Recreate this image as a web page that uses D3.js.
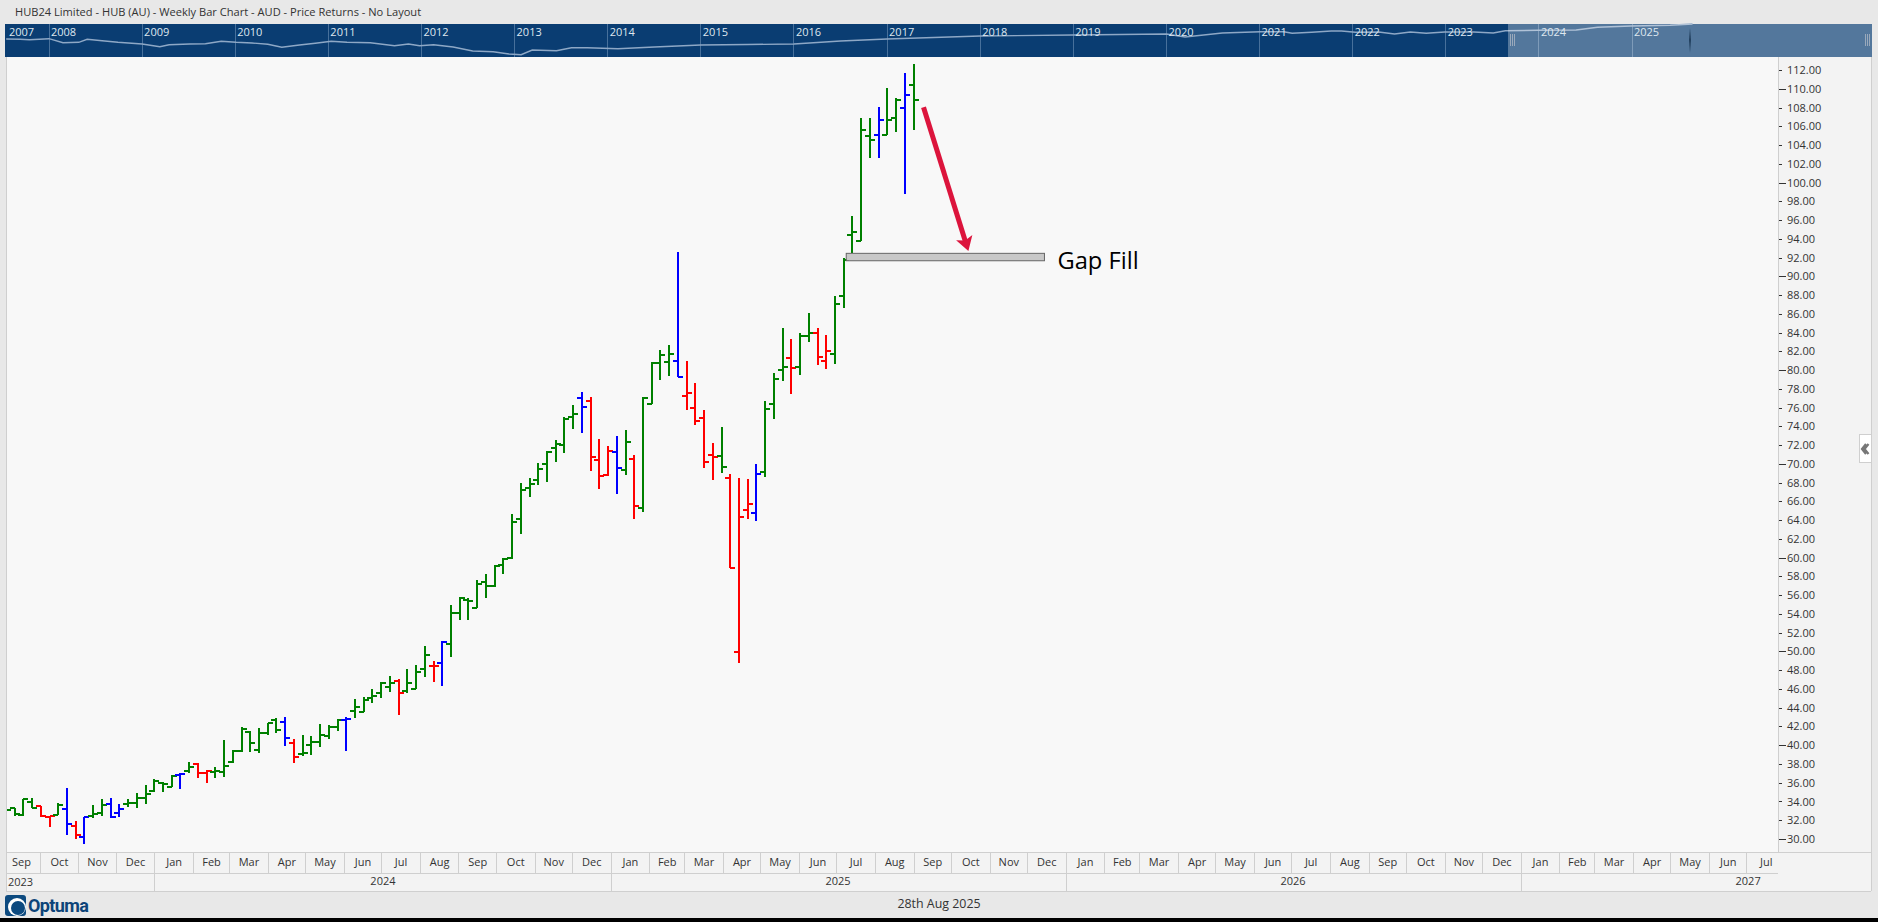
<!DOCTYPE html>
<html>
<head>
<meta charset="utf-8">
<title>HUB24 Weekly Bar Chart</title>
<script src="https://cdn.jsdelivr.net/npm/d3@7/dist/d3.min.js"></script>
<style>
  html, body { margin: 0; padding: 0; background: #e8e8e8; overflow: hidden; }
  svg { display: block; }
  text { font-family: "Open Sans", sans-serif; font-size: 11px; fill: #333; }
  .navText { fill: #dfe7ef; }
  .axis path.domain { display: none; }
</style>
</head>
<body>
<div id="chart"></div>
<script>
// Weekly bars
var barDates = [
  "2023-09-04","2023-09-11","2023-09-18","2023-09-25","2023-10-02","2023-10-09","2023-10-16","2023-10-23","2023-10-30",
  "2023-11-06","2023-11-13","2023-11-20","2023-11-27","2023-12-04","2023-12-11","2023-12-18","2023-12-25",
  "2024-01-01","2024-01-08","2024-01-15","2024-01-22","2024-01-29","2024-02-05","2024-02-12","2024-02-19","2024-02-26",
  "2024-03-04","2024-03-11","2024-03-18","2024-03-25","2024-04-01","2024-04-08","2024-04-15","2024-04-22","2024-04-29",
  "2024-05-06","2024-05-13","2024-05-20","2024-05-27","2024-06-03","2024-06-10","2024-06-17","2024-06-24",
  "2024-07-01","2024-07-08","2024-07-15","2024-07-22","2024-07-29","2024-08-05","2024-08-12","2024-08-19","2024-08-26",
  "2024-09-02","2024-09-09","2024-09-16","2024-09-23","2024-09-30","2024-10-07","2024-10-14","2024-10-21","2024-10-28",
  "2024-11-04","2024-11-11","2024-11-18","2024-11-25","2024-12-02","2024-12-09","2024-12-16","2024-12-23","2024-12-30",
  "2025-01-06","2025-01-13","2025-01-20","2025-01-27","2025-02-03","2025-02-10","2025-02-17","2025-02-24",
  "2025-03-03","2025-03-10","2025-03-17","2025-03-24","2025-03-31","2025-04-07","2025-04-14","2025-04-21","2025-04-28",
  "2025-05-05","2025-05-12","2025-05-19","2025-05-26","2025-06-02","2025-06-09","2025-06-16","2025-06-23","2025-06-30",
  "2025-07-07","2025-07-14","2025-07-21","2025-07-28","2025-08-04","2025-08-11","2025-08-18","2025-08-25","2025-09-01"
];

var opens = [
  31.85,33.27,32.56,33.95,33.56,32.38,32.56,33.16,31.42,30.18,32.45,32.81,33.73,32.81,33.73,33.87,34.34,
  35.15,35.94,35.58,36.83,37.25,38.00,37.07,37.15,37.18,38.25,39.39,41.45,39.49,41.27,42.69,42.51,40.20,39.06,40.06,
  40.38,40.98,41.91,42.69,43.68,43.58,45.07,45.60,46.24,46.88,45.82,45.99,48.16,48.45,48.80,50.79,54.10,55.52,54.67,
  57.44,56.98,59.25,59.97,64.12,67.43,68.28,70.02,71.69,72.01,75.04,77.06,76.74,70.45,68.81,71.30,69.38,70.56,65.33,
  76.42,80.79,80.90,81.01,77.27,75.99,74.93,70.98,70.88,68.53,49.97,65.12,64.80,69.17,76.42,80.05,81.33,80.37,83.67,
  83.99,81.00,81.75,87.90,94.44,93.80,104.96,105.10,105.10,106.91,107.98,110.43
];
var highs = [
  33.09,33.27,34.23,34.34,33.56,32.45,33.87,35.40,31.92,32.31,33.59,34.23,34.34,33.70,34.23,34.87,35.76,
  36.36,36.11,36.83,37.00,38.18,38.07,37.36,37.64,40.56,39.49,41.91,41.52,41.80,42.40,42.87,42.97,40.63,41.09,41.02,
  42.26,42.12,42.76,42.97,44.89,45.10,45.96,46.71,47.38,47.03,48.09,48.52,50.58,48.95,51.08,54.95,55.77,55.66,57.62,
  58.26,59.18,59.93,64.66,67.96,68.49,70.09,71.37,72.55,74.96,76.28,77.63,77.10,72.65,71.91,72.97,73.61,70.95,77.10,
  80.83,82.14,82.68,92.59,80.97,78.63,75.75,72.23,73.93,68.92,68.49,68.38,69.98,76.70,79.69,84.49,83.32,83.96,86.09,
  84.49,83.74,87.90,91.92,96.43,106.84,106.84,108.05,110.04,108.98,111.68,112.64
];
var lows = [
  31.31,32.45,32.45,33.27,32.31,31.31,32.56,30.43,29.97,29.50,32.20,32.45,32.20,32.31,33.38,33.34,33.73,
  35.05,35.05,35.51,35.37,37.07,36.54,36.01,36.54,36.65,38.07,39.28,39.28,39.21,41.09,41.34,39.95,38.07,38.85,38.96,
  39.85,40.70,41.55,39.42,42.94,43.51,44.47,45.07,45.71,43.22,45.60,45.96,47.31,46.78,46.35,49.44,53.35,53.35,54.60,
  55.74,56.84,58.26,59.89,62.52,66.47,67.75,68.10,70.24,71.20,73.72,73.33,69.28,67.32,68.74,66.82,68.85,64.12,64.91,
  76.38,78.94,79.37,79.27,75.75,74.15,69.56,68.28,69.06,58.86,48.77,64.12,63.91,68.60,74.78,78.87,77.45,79.48,83.00,
  80.54,80.12,80.65,86.62,92.45,93.76,102.65,102.65,105.07,105.42,98.81,105.63
];
var closes = [
  33.09,32.63,34.23,33.34,32.45,32.45,33.66,31.63,30.43,32.31,32.67,33.63,32.38,33.16,33.80,34.34,34.80,
  36.18,35.83,36.72,36.93,37.71,37.07,37.22,37.29,37.82,39.42,41.69,40.20,41.27,42.33,41.62,40.81,38.71,39.21,40.38,
  41.09,41.91,42.69,42.83,44.11,44.82,45.25,46.63,46.67,45.60,46.60,47.84,49.65,48.48,51.04,54.10,55.74,55.42,57.19,
  56.98,59.15,59.89,63.80,67.21,67.85,69.49,71.30,72.16,74.82,75.36,76.10,70.77,68.74,71.41,69.60,72.37,65.54,77.06,
  80.72,81.65,81.75,79.30,77.59,74.57,70.24,70.77,69.70,58.90,64.37,65.75,68.95,75.88,79.09,80.37,80.26,83.67,83.99,
  81.43,82.07,87.08,91.74,94.76,105.63,104.57,106.70,106.70,108.83,109.37,108.83
];
// g = up, r = down, b = outside/other, as coloured on the chart
var barKinds = (
  "g g g g r r g b r b g g b b g g g " +
  "g g g b g r r g g g g g g g g b r g g " +
  "g g g b g g g g g r g g g r b g g g g " +
  "g g g g g g g g g g g b r r r b g r g " +
  "g g g b r r r r g r r r b g g g r g g " +
  "r r g g g g g b g g b g"
).split(" ");

var priceTicks = [30,32,34,36,38,40,42,44,46,48,50,52,54,56,58,60,62,64,66,68,70,72,74,76,78,80,
  82,84,86,88,90,92,94,96,98,100,102,104,106,108,110,112];
var monthNames = ["Jan","Feb","Mar","Apr","May","Jun","Jul","Aug","Sep","Oct","Nov","Dec"];
var yearLabels = [2024, 2025, 2026, 2027];
var navYearLabels = [2008,2009,2010,2011,2012,2013,2014,2015,2016,2017,2018,2019,2020,2021,2022,2023,2024,2025];

// Navigator strip: year position and height of the small history line
var navYears = [2007.54,2007.69,2007.79,2008.0,2008.15,2008.32,2008.41,2008.57,2008.74,2009.0,2009.19,2009.29,2009.51,
  2009.68,2009.85,2010.01,2010.18,2010.35,2010.5,2010.69,2010.86,2011.03,2011.2,2011.45,2011.71,2011.86,2011.98,
  2012.13,2012.34,2012.55,2012.77,2012.94,2013.07,2013.19,2013.45,2013.61,2013.78,2014.11,2014.5,2015,2015.5,2016,
  2016.5,2017,2017.5,2018,2019,2020,2020.2,2020.6,2021.01,2021.26,2021.35,2021.56,2021.77,2021.88,2022.03,2022.28,
  2022.45,2022.62,2022.79,2022.99,2023.3,2023.51,2023.64,2023.99,2024.4,2024.63,2024.99,2025.41,2025.65];
var navLevels = [18,17.7,17.3,18.3,14.3,14.7,17.7,16.3,14.7,13,10.3,12.3,13,13.3,15.7,14.7,14,12.7,9.7,12,13.7,15.7,14.7,
  14.3,11.3,13,11.3,12.3,10,6,5.3,3,2.3,7,6.3,9.3,9.3,8.3,10,12,12.5,13,16,18,19.5,21,22,23,20,24,25.3,25.3,23.7,24.7,
  26,26,24.7,25,23,25,23.7,25,25,24,26.3,26.7,27,29.7,31,31.7,33];

// Annotations
var gapFill = { start: "2025-07-09", end: "2025-12-15", top: 92.45, bottom: 91.66, label: "Gap Fill" };
var arrow = { fromDate: "2025-09-09", fromPrice: 108.02, toDate: "2025-10-15", toPrice: 92.70 };

var titleText = "HUB24 Limited - HUB (AU) - Weekly Bar Chart - AUD - Price Returns - No Layout";
var dateText = "28th Aug 2025";

var svgWidth = 1878;
var svgHeight = 922;

var plot = { left: 6, right: 1778, top: 57, bottom: 852 };
var nav = { left: 5, right: 1872, top: 24, bottom: 57, windowLeft: 1508 };
var monthRowBottom = 873;
var yearRowBottom = 891;

var parseDate = d3.utcParse("%Y-%m-%d");

var bars = barDates.map(function(d, i) {
  return { date: parseDate(d), open: opens[i], high: highs[i], low: lows[i], close: closes[i], kind: barKinds[i] };
});

// Scales
var x = d3.scaleUtc()
  .domain([parseDate("2024-01-01"), parseDate("2027-01-01")])
  .range([154.3, 1520.7]);

var y = d3.scaleLinear()
  .domain([30, 112])
  .range([839, 70]);

var barColor = d3.scaleOrdinal()
  .domain(["g", "r", "b"])
  .range(["#008000", "#ff0000", "#0000ff"]);

var navX = d3.scaleLinear().domain([2008, 2025]).range([49, 1632]);
var navY = d3.scaleLinear().domain([0, 33]).range([nav.bottom, nav.top]);

var svg = d3.select("#chart")
  .append("svg")
  .attr("width", svgWidth)
  .attr("height", svgHeight);

// Window background and the black strip under it
svg.append("rect").attr("width", svgWidth).attr("height", svgHeight).attr("fill", "#e8e8e8");
svg.append("rect").attr("y", 918).attr("width", svgWidth).attr("height", 4).attr("fill", "#000");

svg.append("text").attr("x", 15).attr("y", 16).style("font-size", "11.1px").text(titleText);

// Plot and side panels
svg.append("rect")
  .attr("x", plot.left).attr("y", plot.top)
  .attr("width", 1865).attr("height", yearRowBottom - plot.top)
  .attr("fill", "#f3f3f3");
svg.append("rect")
  .attr("x", plot.left).attr("y", plot.top)
  .attr("width", plot.right - plot.left).attr("height", plot.bottom - plot.top)
  .attr("fill", "#f8f8f8");

// Navigator
var navGroup = svg.append("g");

navGroup.append("rect")
  .attr("x", nav.left).attr("y", nav.top)
  .attr("width", nav.right - nav.left).attr("height", nav.bottom - nav.top)
  .attr("fill", "#0a3d72");

navGroup.selectAll(".navGrid")
  .data(navYearLabels)
  .enter()
  .append("line")
  .attr("x1", d => navX(d)).attr("x2", d => navX(d))
  .attr("y1", nav.top).attr("y2", nav.bottom)
  .attr("stroke", "#47709b")
  .attr("shape-rendering", "crispEdges");

var navLine = d3.line()
  .x(function(d, i) { return navX(navYears[i]); })
  .y(function(d) { return navY(d); });

navGroup.append("path")
  .attr("d", navLine(navLevels))
  .attr("fill", "none")
  .attr("stroke", "#8ea8c6")
  .attr("stroke-width", 1.4);

navGroup.append("rect")
  .attr("x", nav.windowLeft).attr("y", nav.top)
  .attr("width", nav.right - nav.windowLeft).attr("height", nav.bottom - nav.top)
  .attr("fill", "#fff").attr("opacity", 0.3);

navGroup.selectAll(".navText")
  .data([2007].concat(navYearLabels))
  .enter()
  .append("text")
  .attr("class", "navText")
  .attr("x", d => d == 2007 ? 9 : navX(d) + 2)
  .attr("y", 36)
  .text(d => d);

// Grips of the selected window
[1510, 1512, 1514, 1865, 1867, 1869].forEach(function(gx) {
  navGroup.append("line")
    .attr("x1", gx).attr("x2", gx).attr("y1", 34).attr("y2", 46)
    .attr("stroke", "#9aa9bb").attr("shape-rendering", "crispEdges");
});
navGroup.append("path")
  .attr("d", "M1690,28 L1691,40 L1690,53 L1689,40 Z")
  .attr("fill", "#22405f");

// Price axis
var rightAxis = d3.axisRight(y)
  .tickValues(priceTicks)
  .tickFormat(d3.format(".2f"))
  .tickSize(4)
  .tickPadding(5);

var priceAxis = svg.append("g")
  .attr("class", "axis")
  .attr("transform", `translate(${plot.right}, 0)`)
  .call(rightAxis);

priceAxis.selectAll("text")
  .attr("fill", null)
  .style("font-size", "11px");
priceAxis.selectAll("line")
  .attr("stroke", "#333")
  .attr("x2", d => d % 10 == 0 ? 8 : 4)
  .attr("shape-rendering", "crispEdges");

// Time axis rows
var months = d3.utcMonth.range(parseDate("2023-09-01"), parseDate("2027-08-01"));
var monthMiddles = months.map(function(m) {
  return new Date((+m + +d3.utcMonth.offset(m, 1)) / 2);
});

var monthLines = d3.axisBottom(x)
  .tickValues(months.slice(1))
  .tickSize(monthRowBottom - plot.bottom)
  .tickFormat("");

svg.append("g")
  .attr("class", "axis")
  .attr("transform", `translate(0, ${plot.bottom})`)
  .call(monthLines)
  .selectAll("line")
  .attr("stroke", "#cfcfcf")
  .attr("shape-rendering", "crispEdges");

var monthAxis = d3.axisBottom(x)
  .tickValues(monthMiddles)
  .tickSize(0)
  .tickPadding(6)
  .tickFormat(d => monthNames[d.getUTCMonth()]);

svg.append("g")
  .attr("class", "axis")
  .attr("transform", `translate(0, ${plot.bottom})`)
  .call(monthAxis)
  .selectAll("text")
  .attr("fill", null)
  .style("font-size", "11px");

var yearStarts = yearLabels.map(d => parseDate(d + "-01-01"));
var yearLines = d3.axisBottom(x)
  .tickValues(yearStarts)
  .tickSize(yearRowBottom - plot.bottom)
  .tickFormat("");

svg.append("g")
  .attr("class", "axis")
  .attr("transform", `translate(0, ${plot.bottom})`)
  .call(yearLines)
  .selectAll("line")
  .attr("stroke", "#cfcfcf")
  .attr("shape-rendering", "crispEdges");

var yearMiddles = yearLabels.map(d => parseDate(d + "-07-02"));
var yearAxis = d3.axisBottom(x)
  .tickValues(yearMiddles)
  .tickSize(0)
  .tickPadding(4)
  .tickFormat(d => d.getUTCFullYear());

svg.append("g")
  .attr("class", "axis")
  .attr("transform", `translate(0, ${monthRowBottom})`)
  .call(yearAxis)
  .selectAll("text")
  .attr("fill", null)
  .style("font-size", "11px");

svg.append("text").attr("x", 8).attr("y", 886).text(2023);

// Panel border lines
var borderLines = [
  [plot.left, plot.top, plot.left, yearRowBottom],
  [plot.right, plot.top, plot.right, plot.bottom],
  [1871, plot.top, 1871, yearRowBottom],
  [plot.left, plot.bottom, 1871, plot.bottom],
  [plot.left, monthRowBottom, plot.right, monthRowBottom],
  [plot.left, yearRowBottom, 1871, yearRowBottom]
];
svg.selectAll(".border")
  .data(borderLines)
  .enter()
  .append("line")
  .attr("x1", d => d[0]).attr("y1", d => d[1])
  .attr("x2", d => d[2]).attr("y2", d => d[3])
  .attr("stroke", "#cfcfcf")
  .attr("shape-rendering", "crispEdges");

// Bars
svg.append("clipPath").attr("id", "plotClip")
  .append("rect")
  .attr("x", plot.left + 1).attr("y", plot.top)
  .attr("width", plot.right - plot.left - 1).attr("height", plot.bottom - plot.top);

var barGroup = svg.append("g")
  .attr("clip-path", "url(#plotClip)")
  .attr("shape-rendering", "crispEdges")
  .attr("stroke-width", 2);

var barMarks = barGroup.selectAll("g")
  .data(bars)
  .enter()
  .append("g")
  .attr("stroke", d => barColor(d.kind));

barMarks.append("line")
  .attr("x1", d => Math.round(x(d.date))).attr("x2", d => Math.round(x(d.date)))
  .attr("y1", d => y(d.high)).attr("y2", d => y(d.low));

barMarks.append("line")
  .attr("x1", d => Math.round(x(d.date)) - 5).attr("x2", d => Math.round(x(d.date)))
  .attr("y1", d => Math.round(y(d.open))).attr("y2", d => Math.round(y(d.open)));

barMarks.append("line")
  .attr("x1", d => Math.round(x(d.date))).attr("x2", d => Math.round(x(d.date)) + 5)
  .attr("y1", d => Math.round(y(d.close))).attr("y2", d => Math.round(y(d.close)));

// Gap fill box
svg.append("rect")
  .attr("x", x(parseDate(gapFill.start)))
  .attr("y", y(gapFill.top))
  .attr("width", x(parseDate(gapFill.end)) - x(parseDate(gapFill.start)))
  .attr("height", y(gapFill.bottom) - y(gapFill.top))
  .attr("fill", "#c8c8c8")
  .attr("stroke", "#666")
  .attr("stroke-width", 1);

svg.append("text")
  .attr("x", x(parseDate(gapFill.end)) + 13)
  .attr("y", y(gapFill.bottom) + 8)
  .style("font-size", "23.7px")
  .style("fill", "#000")
  .text(gapFill.label);

// Arrow down to the gap
var ax1 = x(parseDate(arrow.fromDate)), ay1 = y(arrow.fromPrice);
var ax2 = x(parseDate(arrow.toDate)), ay2 = y(arrow.toPrice);
var alen = Math.hypot(ax2 - ax1, ay2 - ay1);
var ux = (ax2 - ax1) / alen, uy = (ay2 - ay1) / alen;

svg.append("line")
  .attr("x1", ax1).attr("y1", ay1)
  .attr("x2", ax2 - ux * 10).attr("y2", ay2 - uy * 10)
  .attr("stroke", "#dc143c")
  .attr("stroke-width", 5);

svg.append("path")
  .attr("d", `M${ax2},${ay2}
    L${ax2 - ux * 14 - uy * 8.5},${ay2 - uy * 14 + ux * 8.5}
    L${ax2 - ux * 11},${ay2 - uy * 11}
    L${ax2 - ux * 14 + uy * 8.5},${ay2 - uy * 14 - ux * 8.5} Z`)
  .attr("fill", "#dc143c");

// Side panel handle
svg.append("path")
  .attr("d", "M1871,434 H1859 V462 H1871")
  .attr("fill", "#fff")
  .attr("stroke", "#cfcfcf")
  .attr("shape-rendering", "crispEdges");
svg.append("path")
  .attr("d", "M1866,444 L1862,449 L1866,454 M1868.5,444 L1864.5,449 L1868.5,454")
  .attr("fill", "none")
  .attr("stroke", "#777")
  .attr("stroke-width", 2.2);

// Footer
svg.append("text")
  .attr("x", 939).attr("y", 908)
  .attr("text-anchor", "middle")
  .style("font-size", "12.4px")
  .text(dateText);

var logo = svg.append("g");
logo.append("rect").attr("x", 5).attr("y", 895).attr("width", 21).attr("height", 21).attr("rx", 3).attr("fill", "#0d4a7f");
logo.append("circle").attr("cx", 17).attr("cy", 907).attr("r", 9).attr("fill", "#fff");
logo.append("circle").attr("cx", 18).attr("cy", 908).attr("r", 7).attr("fill", "#0d4a7f");
logo.append("text")
  .attr("x", 28).attr("y", 912)
  .style("font-family", "Roboto, sans-serif")
  .style("font-size", "18px")
  .style("font-weight", "700")
  .style("letter-spacing", "-0.6px")
  .style("fill", "#0d4479")
  .text("Optuma");
</script>
</body>
</html>
